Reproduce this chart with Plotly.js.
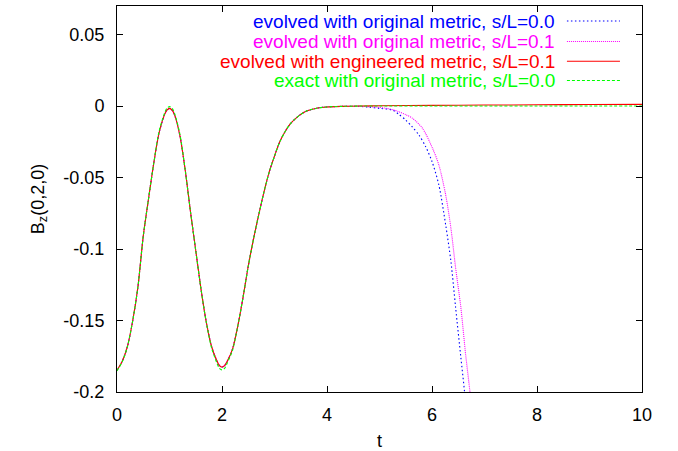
<!DOCTYPE html>
<html>
<head>
<meta charset="utf-8">
<script src="https://cdn.plot.ly/plotly-3.0.1.min.js"></script>
<style>
  html, body { margin: 0; padding: 0; background: #fff; }
  #plot { width: 678px; height: 451px; }
</style>
</head>
<body>
<div id="plot"></div>
<script>
// Pulse at the probe point (0,2,0): common early-time part shared by all runs
const tCore = [0, 0.1, 0.2, 0.3, 0.4, 0.5, 0.6, 0.7, 0.8, 0.9, 0.95, 1.0, 1.05, 1.1, 1.2, 1.3,
  1.4, 1.5, 1.6, 1.7, 1.8, 1.9, 1.95, 2.0, 2.05, 2.1, 2.2, 2.3, 2.4, 2.5, 2.6, 2.7, 2.8, 2.9,
  3.0, 3.1, 3.2, 3.3, 3.4, 3.5, 3.6, 3.8, 4.0, 4.3];
const bzEvolved = [-0.1848, -0.1785, -0.168, -0.150, -0.126, -0.091, -0.065, -0.040, -0.019,
  -0.0065, -0.0029, -0.0016, -0.0029, -0.0065, -0.021, -0.045, -0.074, -0.101, -0.128, -0.151,
  -0.168, -0.1780, -0.1815, -0.1825, -0.1815, -0.1785, -0.170, -0.154, -0.134, -0.112, -0.093,
  -0.076, -0.060, -0.046, -0.035, -0.025, -0.018, -0.0125, -0.0088, -0.0058, -0.0036, -0.0015,
  -0.0006, -0.0002];
const bzExact = [-0.1852, -0.1788, -0.168, -0.150, -0.126, -0.091, -0.065, -0.040, -0.018,
  -0.0055, -0.0016, -0.0004, -0.0016, -0.0055, -0.020, -0.045, -0.074, -0.101, -0.128, -0.151,
  -0.169, -0.1795, -0.1834, -0.1845, -0.1835, -0.1797, -0.171, -0.154, -0.134, -0.112, -0.093,
  -0.076, -0.060, -0.046, -0.035, -0.025, -0.018, -0.0125, -0.0088, -0.0058, -0.0036, -0.0015,
  -0.0006, -0.0002];

// Late-time behaviour of each run
const tTailOrig0 = [4.6, 4.8, 5.0, 5.25, 5.37, 5.5, 5.62, 5.75, 5.88, 6.0, 6.13, 6.26, 6.36,
  6.45, 6.55, 6.62, 6.7];
const bzTailOrig0 = [-0.0002, -0.0008, -0.0016, -0.0028, -0.0058, -0.0098, -0.0144, -0.0202,
  -0.0284, -0.0388, -0.0551, -0.083, -0.1086, -0.141, -0.176, -0.200, -0.235];

const tTailOrig1 = [4.6, 4.9, 5.1, 5.25, 5.37, 5.5, 5.63, 5.82, 6.01, 6.13, 6.26, 6.36, 6.45,
  6.55, 6.64, 6.72, 6.8];
const bzTailOrig1 = [-0.0002, -0.0006, -0.0014, -0.0025, -0.0040, -0.0060, -0.0086, -0.0156,
  -0.0295, -0.0411, -0.062, -0.0853, -0.1132, -0.141, -0.1736, -0.199, -0.230];

const tTailEng1 = [4.6, 5.0, 6.0, 7.0, 8.0, 9.0, 10.0];
const bzTailEng1 = [0.0, 0.0002, 0.0005, 0.0007, 0.0009, 0.0011, 0.0012];

const tTailExact = [4.6, 5.0, 6.0, 7.0, 8.0, 9.0, 10.0];
const bzTailExact = [0.0, 0.0, 0.0, 0.0, 0.0, 0.0, 0.0];

const yTickVals = [-0.2, -0.15, -0.1, -0.05, 0, 0.05];
const yTickText = ['-0.2', '-0.15', '-0.1', '-0.05', '0', '0.05'];
const xTickVals = [0, 2, 4, 6, 8, 10];
const xTickText = ['0', '2', '4', '6', '8', '10'];

const seriesNames = [
  'evolved with original metric, s/L=0.0',
  'evolved with original metric, s/L=0.1',
  'evolved with engineered metric, s/L=0.1',
  'exact with original metric, s/L=0.0'
];
const seriesColors = ['#0000ff', '#ff00ff', '#ff0000', '#00ff00'];
const seriesDash = ['1.5px,2.5px', '1px,1px', 'solid', '3px,2px'];

const runs = [
  { t: tCore.concat(tTailOrig0), v: bzEvolved.concat(bzTailOrig0) },
  { t: tCore.concat(tTailOrig1), v: bzEvolved.concat(bzTailOrig1) },
  { t: tCore.concat(tTailEng1), v: bzEvolved.concat(bzTailEng1) },
  { t: tCore.concat(tTailExact), v: bzExact.concat(bzTailExact) }
];

const traces = runs.map((r, i) => ({
  type: 'scatter',
  mode: 'lines',
  x: r.t,
  y: r.v,
  name: seriesNames[i],
  line: { color: seriesColors[i], width: 1.1, dash: seriesDash[i], shape: 'spline', smoothing: 0.8 },
  showlegend: false,
  hoverinfo: 'skip'
}));

const FONT = 'Liberation Sans, Arial, Helvetica, sans-serif';

// Key in the top-right corner: right-aligned labels with a line sample after each
const keyRowsY = [0.961, 0.908, 0.857, 0.807];
const annotations = seriesNames.map((name, i) => ({
  xref: 'paper', yref: 'paper',
  x: 0.838, y: keyRowsY[i],
  xanchor: 'right', yanchor: 'middle',
  text: name, showarrow: false,
  font: { family: FONT, size: 19, color: seriesColors[i] }
}));
const shapes = seriesNames.map((name, i) => ({
  type: 'line', xref: 'paper', yref: 'paper',
  x0: 0.857, x1: 0.958, y0: keyRowsY[i], y1: keyRowsY[i],
  line: { color: seriesColors[i], width: 1.1, dash: seriesDash[i] }
}));

const axisCommon = {
  showline: true, linecolor: '#000', linewidth: 1, mirror: 'ticks',
  ticks: 'inside', ticklen: 6, tickcolor: '#000', tickwidth: 1,
  showgrid: false, zeroline: false, tickmode: 'array',
  tickfont: { family: FONT, size: 18, color: '#000' }
};

const layout = {
  width: 678, height: 451,
  margin: { l: 117, r: 36, t: 6, b: 59 },
  paper_bgcolor: '#fff', plot_bgcolor: '#fff',
  font: { family: FONT, size: 18, color: '#000' },
  xaxis: Object.assign({}, axisCommon, {
    range: [0, 10], tickvals: xTickVals, ticktext: xTickText,
    ticklabelstandoff: 6,
    title: { text: 't', font: { family: FONT, size: 18 }, standoff: 12 }
  }),
  yaxis: Object.assign({}, axisCommon, {
    range: [-0.2, 0.07], tickvals: yTickVals, ticktext: yTickText,
    ticklabelstandoff: 8,
    title: { text: 'B<sub>z</sub>(0,2,0)', font: { family: FONT, size: 18 }, standoff: 14 }
  }),
  annotations: annotations,
  shapes: shapes
};

Plotly.newPlot('plot', traces, layout, { displayModeBar: false, staticPlot: true });
</script>
</body>
</html>
